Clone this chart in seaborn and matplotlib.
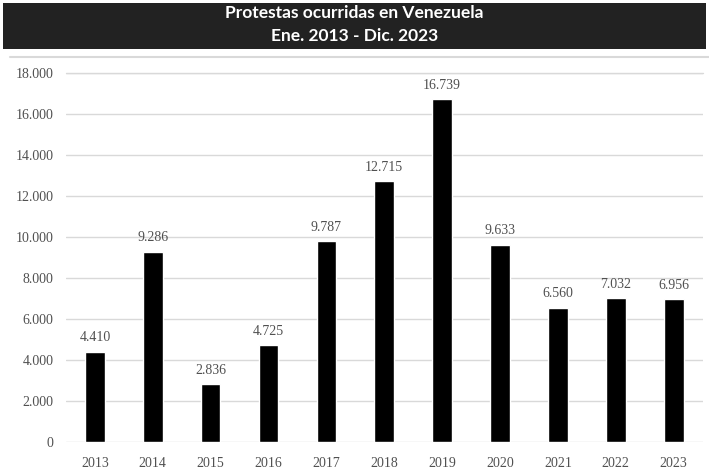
import matplotlib
matplotlib.use("Agg")
import matplotlib.pyplot as plt
from matplotlib.patches import Rectangle
from matplotlib.lines import Line2D
import seaborn as sns
import pandas as pd

# Annual protest counts
years = ["2013", "2014", "2015", "2016", "2017", "2018", "2019", "2020", "2021", "2022", "2023"]
protests = [4410, 9286, 2836, 4725, 9787, 12715, 16739, 9633, 6560, 7032, 6956]
y_ticks = [0, 2000, 4000, 6000, 8000, 10000, 12000, 14000, 16000, 18000]
title_lines = ["Protestas ocurridas en Venezuela", "Ene. 2013 - Dic. 2023"]


def fmt(v):
    return f"{v:,}".replace(",", ".")


df = pd.DataFrame({"year": years, "count": protests})

sns.set_theme(style="white")
serif = ["Liberation Serif", "DejaVu Serif"]

fig = plt.figure(figsize=(7.09, 4.76), dpi=100)
ax = fig.add_axes([0.093, 0.0714, 0.898, 0.7752])

sns.barplot(data=df, x="year", y="count", color="black", width=0.34,
            saturation=1, ax=ax, zorder=3)

ax.set_xlim(-0.5, len(years) - 0.5)
ax.set_ylim(0, 18000)
ax.set_yticks(y_ticks)
ax.set_yticklabels([fmt(t) for t in y_ticks])
ax.yaxis.grid(True, color="#d9d9d9", linewidth=1.0, zorder=0)
ax.set_axisbelow(True)
ax.set_xlabel("")
ax.set_ylabel("")
for s in ax.spines.values():
    s.set_visible(False)
ax.tick_params(axis="both", length=0, labelsize=10, labelcolor="#505050")
ax.tick_params(axis="y", pad=9)
ax.tick_params(axis="x", pad=11)
for lab in ax.get_xticklabels() + ax.get_yticklabels():
    lab.set_fontfamily(serif)
ax.axhline(18000, color="#d9d9d9", linewidth=1.0, zorder=0, clip_on=False)

for i, v in enumerate(protests):
    ax.text(i, v + 350, fmt(v), ha="center", va="bottom", fontsize=10,
            color="#505050", family=serif)

# Title banner
fig.patches.append(Rectangle((3 / 709, 1 - 49 / 476), 703 / 709, 46 / 476,
                             transform=fig.transFigure, facecolor="#222222",
                             edgecolor="none", zorder=5))
fig.text(0.5, 1 - 13 / 476, title_lines[0], ha="center", va="center",
         color="white", fontsize=12.5, fontweight="bold", family=["Lato", "DejaVu Sans"], zorder=6)
fig.text(0.5, 1 - 36 / 476, title_lines[1], ha="center", va="center",
         color="white", fontsize=12.5, fontweight="bold", family=["Lato", "DejaVu Sans"], zorder=6)
fig.lines.append(Line2D([10 / 709, 1], [1 - 57 / 476, 1 - 57 / 476],
                        transform=fig.transFigure, color="#d9d9d9", linewidth=1.5))

fig.savefig("out.png", dpi=100)
